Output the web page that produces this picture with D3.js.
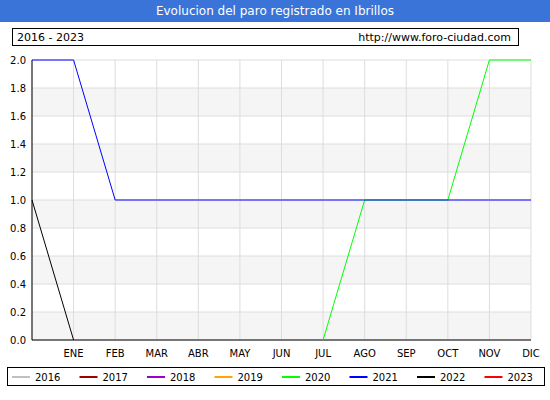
<!DOCTYPE html><html><head><meta charset="utf-8">
<script src="https://cdn.jsdelivr.net/npm/d3@7"></script>
<style>body{margin:0;background:#fff}</style></head><body><svg id="c" width="550" height="400"></svg>
<script>
const months=["","ENE","FEB","MAR","ABR","MAY","JUN","JUL","AGO","SEP","OCT","NOV","DIC"];
const yTicks=[0,0.2,0.4,0.6,0.8,1.0,1.2,1.4,1.6,1.8,2.0];
const years=["2016","2017","2018","2019","2020","2021","2022","2023"];
const colors=["#c0c0c0","#a00000","#9900cc","#ffa500","#00ff00","#0000ff","#000000","#ff0000"];
const s2020=[null,null,null,null,null,null,null,0,1,1,1,2,2];
const s2021=[2,2,1,1,1,1,1,1,1,1,1,1,1];
const s2022=[1,0,null,null,null,null,null,null,null,null,null,null,null];
const series=[{v:s2020,c:colors[4]},{v:s2021,c:colors[5]},{v:s2022,c:colors[6]}];
const svg=d3.select("#c"),font="DejaVu Sans";
const L=32,R=531,T=60,B=340;
const x=d3.scaleLinear().domain([0,12]).range([L,R]);
const y=d3.scaleLinear().domain([0,2]).range([B,T]);
svg.append("rect").attr("width",550).attr("height",22).attr("fill","#3a74d8");
svg.append("text").attr("x",275).attr("y",15).attr("text-anchor","middle").attr("fill","#fff").attr("font-family",font).attr("font-size",12).text("Evolucion del paro registrado en Ibrillos");
svg.append("rect").attr("x",12.5).attr("y",28.5).attr("width",506).attr("height",17).attr("fill","#fff").attr("stroke","#000");
svg.append("text").attr("x",17).attr("y",41).attr("font-family",font).attr("font-size",11).text("2016 - 2023");
svg.append("text").attr("x",511).attr("y",41).attr("text-anchor","end").attr("font-family",font).attr("font-size",11).text("http://www.foro-ciudad.com");
for(let i=0;i<10;i+=2){svg.append("rect").attr("x",L).attr("y",y(yTicks[i+1])).attr("width",R-L).attr("height",y(yTicks[i])-y(yTicks[i+1])).attr("fill","#f5f5f5");}
yTicks.forEach(t=>{svg.append("line").attr("x1",L).attr("x2",R).attr("y1",y(t)).attr("y2",y(t)).attr("stroke","#ddd");
 svg.append("text").attr("x",L-6).attr("y",y(t)+4).attr("text-anchor","end").attr("font-family",font).attr("font-size",10).text(t.toFixed(1));});
months.forEach((m,i)=>{svg.append("line").attr("x1",x(i)).attr("x2",x(i)).attr("y1",T).attr("y2",B).attr("stroke","#ddd");
 if(m)svg.append("text").attr("x",x(i)).attr("y",B+17).attr("text-anchor","middle").attr("font-family",font).attr("font-size",10).text(m);});
svg.append("line").attr("x1",L).attr("x2",L).attr("y1",T).attr("y2",B).attr("stroke","#000");
svg.append("line").attr("x1",L).attr("x2",R).attr("y1",B).attr("y2",B).attr("stroke","#000");
const line=d3.line().defined(d=>d!=null).x((d,i)=>x(i)).y(d=>y(d));
series.forEach(s=>svg.append("path").attr("d",line(s.v)).attr("fill","none").attr("stroke",s.c).attr("stroke-width",1));
svg.append("rect").attr("x",7.5).attr("y",367.5).attr("width",537).attr("height",18).attr("fill","#fff").attr("stroke","#000");
years.forEach((yr,i)=>{const lx=12+i*67.5;
 svg.append("line").attr("x1",lx).attr("x2",lx+18).attr("y1",377).attr("y2",377).attr("stroke",colors[i]).attr("stroke-width",2);
 svg.append("text").attr("x",lx+23).attr("y",381).attr("font-family",font).attr("font-size",10).text(yr);});
</script></body></html>
